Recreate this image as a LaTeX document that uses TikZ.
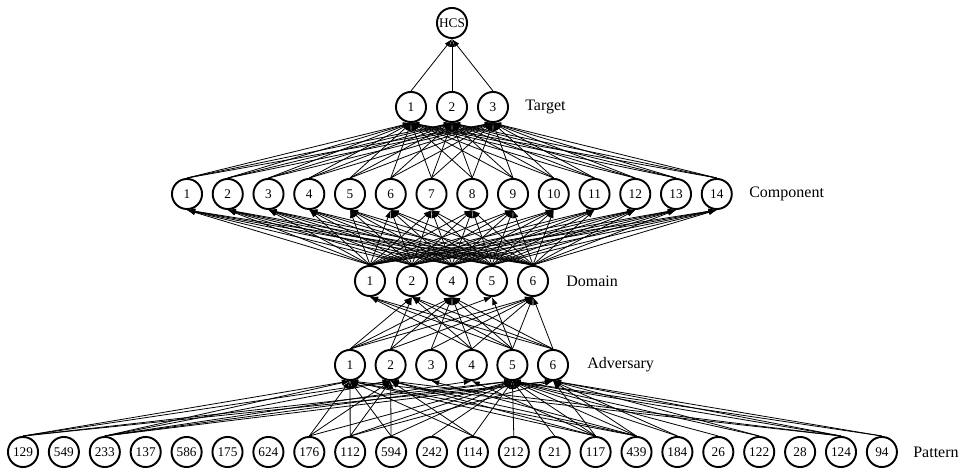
\documentclass[tikz,border=0pt]{standalone}
\usepackage{fontspec}
\setmainfont{Liberation Serif}
\usetikzlibrary{arrows.meta}
\begin{document}
\begin{tikzpicture}[x=0.625pt,y=-0.625pt,
  unit/.style={circle,draw,line width=1.2pt,minimum size=18.8pt,inner sep=0pt,
    font=\fontsize{8.3}{9}\selectfont},
  layer/.style={anchor=west,inner sep=0pt,font=\fontsize{10}{12}\selectfont},
  link/.style={-{Latex[length=5pt,width=3.5pt]},line width=0.5pt}]
\useasboundingbox (0,0) rectangle (960,470);

% top of the hierarchy
\node[unit] (hcs) at (452,23) {HCS};

% targets
\foreach \i/\x in {1/411,2/452,3/493}
  \node[unit] (t\i) at (\x,107) {\i};
\node[layer] (ltarget) at (525,107) {Target};

% components
\foreach \i in {1,...,14}
  \node[unit] (c\i) at ({187+40.75*(\i-1)},194) {\i};
\node[layer] (lcomp) at (749,194) {Component};

% domains
\foreach \i/\x in {1/370,2/412,4/452,5/492,6/533}
  \node[unit] (d\i) at (\x,281) {\i};
\node[layer] (ldomain) at (566,281) {Domain};

% adversaries
\foreach \i in {1,...,6}
  \node[unit] (a\i) at ({350+40.6*(\i-1)},365) {\i};
\node[layer] (ladv) at (587,365) {Adversary};

% attack patterns
\foreach \n [count=\k from 0] in {129,549,233,137,586,175,624,176,112,594,242,
    114,212,21,117,439,184,26,122,28,124,94}
  \node[unit] (p\n) at ({23+40.9*\k},452) {\n};
\node[layer] (lpattern) at (913,452) {Pattern};

% targets -> HCS
\foreach \s in {1,2,3}
  \draw[link] (t\s.north) -- (hcs.south);

% components -> targets
\foreach \s in {1,...,14}
  \foreach \t in {1,2,3}
    \draw[link] (c\s.north) -- (t\t.south);

% domains -> components
\foreach \s in {1,2,4,5,6}
  \foreach \t in {1,...,14}
    \draw[link] (d\s.north) -- (c\t.south);

% adversaries -> domains
\foreach \s/\t in {1/2,1/4,1/5,1/6, 2/2,2/4,2/6, 3/4,3/6,
    4/1,4/2,4/4,4/6, 5/1,5/2,5/4,5/5,5/6, 6/1,6/2,6/4,6/6}
  \draw[link] (a\s.north) -- (d\t.south);

% attack patterns -> adversaries
\foreach \s/\t in {129/1,129/2,129/5,129/6,
    233/1,233/2,233/4,233/5,233/6,
    176/1,176/2,176/5,
    112/1,112/2,112/5,112/6,
    594/1,594/2,594/5,
    242/5,
    114/1,114/2,114/5,
    212/5, 21/5,
    117/1,117/2,117/4,117/5,117/6,
    439/1,439/2,439/3,439/5,439/6,
    184/5,184/6, 26/5, 122/5,122/6,
    124/1,124/2,124/5,124/6, 94/5,94/6}
  \draw[link] (p\s.north) -- (a\t.south);
\end{tikzpicture}
\end{document}
